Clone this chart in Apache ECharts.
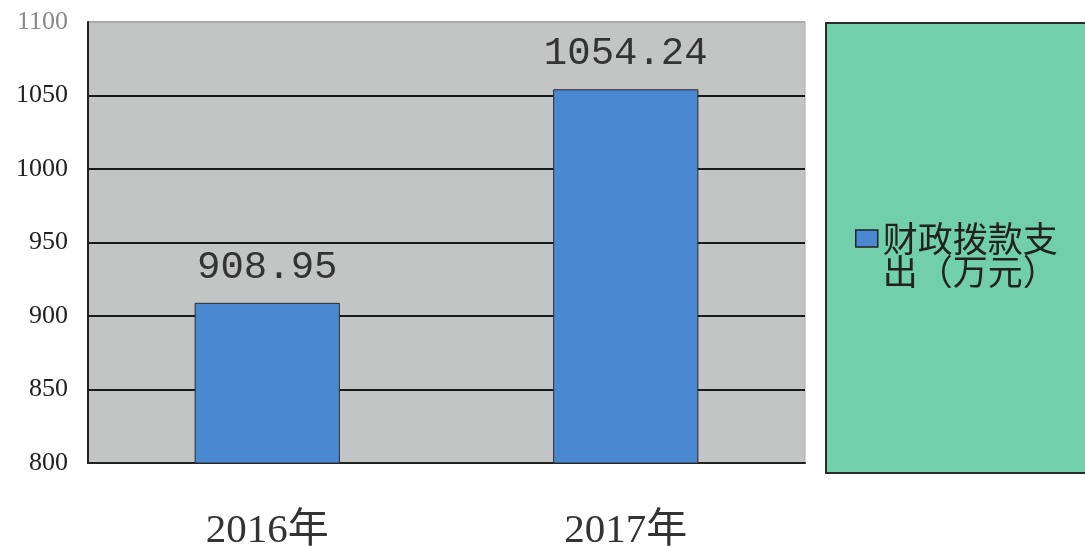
<!DOCTYPE html>
<html>
<head>
<meta charset="utf-8">
<script src="https://cdn.jsdelivr.net/npm/echarts@6/dist/echarts.min.js"></script>
<style>
html,body{margin:0;padding:0;background:#fefefe;}
#c{width:1085px;height:546px;}
</style>
</head>
<body>
<div id="c"></div>
<script>
var categories = ['2016年', '2017年'];
var seriesName = '财政拨款支出（万元）';
var values = [908.95, 1054.24];
var yMin = 800, yMax = 1100, yStep = 50;

var chart = echarts.init(document.getElementById('c'));
chart.setOption({
  animation: false,
  backgroundColor: '#fefefe',
  graphic: [{
    type: 'rect',
    left: 825, top: 22,
    shape: {width: 275, height: 450},
    style: {fill: '#72cfab', stroke: '#2a2a2a', lineWidth: 2},
    z: 0
  }],
  legend: {
    show: true,
    left: 850, top: 183,
    itemWidth: 22, itemHeight: 17,
    itemGap: 10,
    icon: 'rect',
    itemStyle: {borderColor: '#222', borderWidth: 1.5},
    formatter: function (n) { return ' \n' + n.slice(0, 5) + '\n' + n.slice(5); },
    textStyle: {
      fontFamily: '"Noto Sans CJK SC", sans-serif',
      fontSize: 35, lineHeight: 33, color: '#222'
    }
  },
  grid: {
    left: 88, right: 280, top: 22, bottom: 83,
    show: true, backgroundColor: '#c3c5c4', borderColor: '#a8aaa9', borderWidth: 1,
    containLabel: false,
    outerBoundsMode: 'none'
  },
  xAxis: {
    type: 'category',
    data: categories,
    axisTick: {show: false},
    axisLine: {show: true, lineStyle: {color: '#222', width: 2}},
    axisLabel: {
      margin: 48,
      fontFamily: '"Liberation Serif", "Noto Sans CJK SC", serif',
      fontSize: 41, color: '#333'
    }
  },
  yAxis: {
    type: 'value',
    min: yMin, max: yMax, interval: yStep,
    axisLine: {show: true, lineStyle: {color: '#222', width: 2}},
    axisTick: {show: false},
    splitLine: {show: true, lineStyle: {
      color: ['#1a1a1a', '#1a1a1a', '#1a1a1a', '#1a1a1a', '#1a1a1a', '#1a1a1a', '#a8aaa9'],
      width: 2
    }},
    axisLabel: {
      margin: 20,
      fontFamily: '"Liberation Serif", serif',
      fontSize: 26,
      formatter: function (v) { return String(v); },
      color: function (v) { return Number(v) === yMax ? '#8a8a8a' : '#222'; }
    }
  },
  series: [{
    name: seriesName,
    type: 'bar',
    data: values,
    barWidth: '40.5%',
    itemStyle: {color: '#4a88d2', borderColor: '#2a2a2a', borderWidth: 1},
    label: {
      show: true, position: 'top', distance: 16,
      fontFamily: '"Liberation Mono", monospace',
      fontSize: 39, color: '#333',
      formatter: function (p) { return p.value.toFixed(2); }
    }
  }]
});
</script>
</body>
</html>
